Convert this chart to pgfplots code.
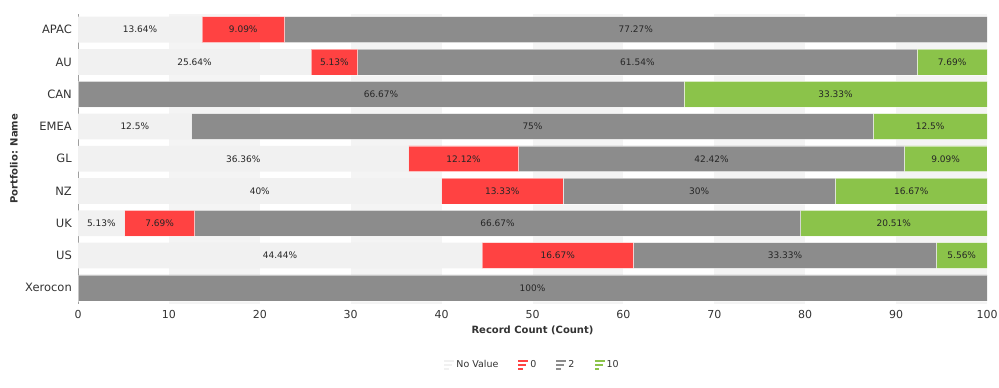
\documentclass[border=0pt]{standalone}
\usepackage{pgfplots}
\pgfplotsset{compat=1.18}
\usepackage{pgfplotstable}
\usepackage{fontspec}
\setmainfont{DejaVu Sans}
\definecolor{nvcol}{HTML}{F1F1F1}
\definecolor{bandcol}{HTML}{F4F4F4}
\definecolor{redcol}{HTML}{FF4242}
\definecolor{graycol}{HTML}{8C8C8C}
\definecolor{greencol}{HTML}{8BC34A}
\definecolor{txtcol}{HTML}{333333}

\pgfplotstableread{
y nv z two ten
8 13.64 9.09 77.27 0
7 25.64 5.13 61.54 7.69
6 0 0 66.67 33.33
5 12.5 0 75 12.5
4 36.36 12.12 42.42 9.09
3 40 13.33 30 16.67
2 5.13 7.69 66.67 20.51
1 44.44 16.67 33.33 5.56
0 0 0 100 0
}\datatable

\pgfplotstableread{
x y lab
6.82 8 13.64
18.18 8 9.09
61.36 8 77.27
12.82 7 25.64
28.205 7 5.13
61.54 7 61.54
96.155 7 7.69
33.335 6 66.67
83.335 6 33.33
6.25 5 12.5
50 5 75
93.75 5 12.5
18.18 4 36.36
42.42 4 12.12
69.69 4 42.42
95.455 4 9.09
20 3 40
46.665 3 13.33
68.33 3 30
91.665 3 16.67
2.565 2 5.13
8.975 2 7.69
46.155 2 66.67
89.745 2 20.51
22.22 1 44.44
52.775 1 16.67
77.775 1 33.33
97.22 1 5.56
50 0 100
}\labtable

\begin{document}
\begin{tikzpicture}
\useasboundingbox (0,0) rectangle (999pt,388pt);
\begin{axis}[
  at={(78pt,84pt)}, anchor=south west,
  scale only axis, width=909pt, height=290.5pt,
  xmin=0, xmax=100, ymin=-0.5, ymax=8.5,
  enlargelimits=false, hide axis,
]
\fill[bandcol] (axis cs:10,-0.5) rectangle (axis cs:20,8.5);
\fill[bandcol] (axis cs:30,-0.5) rectangle (axis cs:40,8.5);
\fill[bandcol] (axis cs:50,-0.5) rectangle (axis cs:60,8.5);
\fill[bandcol] (axis cs:70,-0.5) rectangle (axis cs:80,8.5);
\fill[bandcol] (axis cs:90,-0.5) rectangle (axis cs:100,8.5);
\end{axis}
\begin{axis}[
  at={(78pt,84pt)}, anchor=south west,
  scale only axis, width=909pt, height=290.5pt,
  xbar stacked, bar width=0.8,
  xmin=0, xmax=100, ymin=-0.5, ymax=8.5,
  enlargelimits=false,
  axis lines*=left,
  x axis line style={draw=none},
  y axis line style={draw=gray!75, line width=0.8pt},
  major tick length=0pt,
  xtick={0,10,...,100},
  ytick={0,...,8},
  yticklabels={Xerocon,US,UK,NZ,GL,EMEA,CAN,AU,APAC},
  /pgf/number format/assume math mode=true,
  xticklabel style={font=\fontsize{11}{13}\selectfont, text=txtcol, inner sep=0pt, anchor=north, yshift=-6pt},
  yticklabel style={font=\fontsize{11.5}{13}\selectfont, text=txtcol, inner sep=0pt, anchor=east, xshift=-6pt},
  xlabel={Record Count (Count)},
  xlabel style={at={(axis description cs:0.5,0)}, anchor=north, inner sep=0pt, yshift=-22pt, font=\bfseries\fontsize{10}{12}\selectfont, text=txtcol},
  ylabel={Portfolio: Name},
  ylabel style={at={(axis description cs:0,0.5)}, anchor=center, inner sep=0pt, yshift=64pt, font=\bfseries\fontsize{10}{12}\selectfont, text=txtcol},
  legend style={at={(0.5,-0.21)}, anchor=center, draw=none, fill=none,
    legend columns=4, font=\fontsize{9.5}{11}\selectfont, text=txtcol,
    /tikz/every even column/.append style={column sep=18pt}},
  legend image code/.code={
    \fill[#1,draw=none] (0pt,2.6pt) rectangle (10pt,4.6pt);
    \fill[#1,draw=none] (0pt,-1pt) rectangle (8pt,1pt);
    \fill[#1,draw=none] (0pt,-4.6pt) rectangle (4.5pt,-2.6pt);
  },
]
\addplot[fill=nvcol, draw=none] table[x=nv, y=y] \datatable;
\addplot[fill=redcol, draw=white, draw opacity=0.5, line width=0.5pt] table[x=z, y=y] \datatable;
\addplot[fill=graycol, draw=white, draw opacity=0.5, line width=0.5pt] table[x=two, y=y] \datatable;
\addplot[fill=greencol, draw=white, draw opacity=0.5, line width=0.5pt] table[x=ten, y=y] \datatable;
\legend{No Value,0,2,10}
\end{axis}
\begin{axis}[
  at={(78pt,84pt)}, anchor=south west,
  scale only axis, width=909pt, height=290.5pt,
  xmin=0, xmax=100, ymin=-0.5, ymax=8.5,
  enlargelimits=false, hide axis,
]
\addplot[draw=none, mark=none, nodes near coords={\pgfplotspointmeta\%},
  nodes near coords align=center, point meta=explicit symbolic,
  every node near coord/.append style={anchor=center, font=\fontsize{9}{11}\selectfont, text=black!85}]
  table[x=x, y=y, meta=lab] \labtable;
\end{axis}
\end{tikzpicture}
\end{document}
